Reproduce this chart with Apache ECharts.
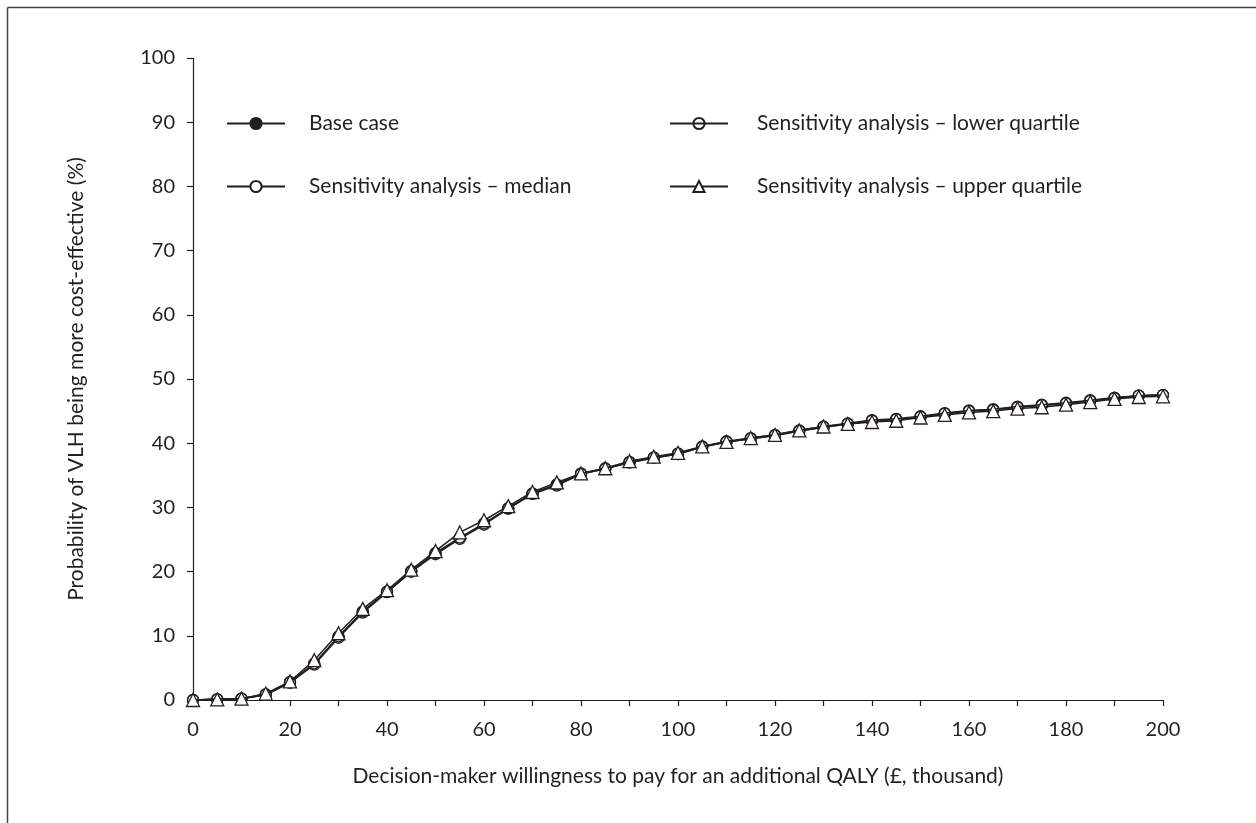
<!DOCTYPE html>
<html>
<head>
<meta charset="utf-8">
<script src="https://cdn.jsdelivr.net/npm/echarts@6/dist/echarts.min.js"></script>
<style>
  html, body { margin: 0; padding: 0; background: #fff; }
  #chart { width: 1256px; height: 823px; }
</style>
</head>
<body>
<div id="chart"></div>
<script>
// Willingness to pay (£ thousand per QALY)
const wtp = [0,5,10,15,20,25,30,35,40,45,50,55,60,65,70,75,80,85,90,95,100,
             105,110,115,120,125,130,135,140,145,150,155,160,165,170,175,180,185,190,195,200];

// Probability (%) that VLH is more cost-effective
const baseCase = [0,0.1,0.2,0.8,2.7,5.6,9.8,13.7,16.8,20.0,22.8,25.2,27.4,29.8,32.1,33.5,35.2,36.0,37.0,37.7,38.3,
                  39.4,40.2,40.7,41.2,41.9,42.5,43.0,43.5,43.7,44.1,44.6,45.0,45.2,45.6,45.9,46.2,46.6,47.0,47.4,47.5];
const median = [0,0.1,0.2,0.8,2.7,5.5,9.7,13.6,16.8,20.0,22.7,25.1,27.3,29.8,32.1,33.4,35.2,36.0,37.0,37.7,38.3,
                39.4,40.2,40.7,41.2,41.9,42.5,43.0,43.5,43.7,44.1,44.6,45.0,45.2,45.6,45.9,46.2,46.6,47.0,47.4,47.5];
const lowerQuartile = [0,0.1,0.2,0.9,2.8,5.7,9.9,13.8,16.9,20.1,22.9,25.3,27.5,29.9,32.2,33.6,35.3,36.1,37.1,37.8,38.4,
                       39.5,40.3,40.8,41.3,42.0,42.6,43.1,43.6,43.8,44.2,44.7,45.1,45.3,45.7,46.0,46.3,46.7,47.1,47.4,47.5];
const upperQuartile = [0,0.1,0.2,1.0,2.9,6.2,10.4,14.2,17.1,20.3,23.2,26.1,28.0,30.2,32.4,33.9,35.3,36.1,37.2,37.9,38.5,
                       39.5,40.2,40.8,41.3,42.0,42.6,43.0,43.3,43.5,44.0,44.4,44.8,45.0,45.4,45.6,46.0,46.4,46.9,47.2,47.3];

// Axis tick values
const xTicks = [0,20,40,60,80,100,120,140,160,180,200];
const yTicks = [0,10,20,30,40,50,60,70,80,90,100];

const seriesNames = ['Base case', 'Sensitivity analysis \u2013 median',
                     'Sensitivity analysis \u2013 lower quartile', 'Sensitivity analysis \u2013 upper quartile'];

const ink = '#231f20';
const font = 'Lato, "Open Sans", sans-serif';

function pairs(vals) { return wtp.map((x, i) => [x, vals[i]]); }

function lineSeries(name, vals, symbol, size, fill, z) {
  return {
    name: name,
    type: 'line',
    data: pairs(vals),
    symbol: symbol,
    symbolSize: size,
    showAllSymbol: true,
    z: z,
    lineStyle: { color: ink, width: 1.5 },
    itemStyle: { color: fill, borderColor: ink, borderWidth: 1.3 },
    emphasis: { disabled: true },
    animation: false
  };
}

const chart = echarts.init(document.getElementById('chart'), null, { renderer: 'canvas' });

function legendAt(left, textGap, names) {
  return {
    orient: 'vertical',
    left: left,
    top: 113,
    padding: 0,
    itemWidth: 58,
    itemHeight: 14,
    itemGap: 42,
    textStyle: { color: ink, fontSize: 21, fontFamily: font, padding: [0, 0, 0, textGap] },
    selectedMode: false,
    data: names
  };
}

chart.setOption({
  backgroundColor: '#fff',
  animation: false,
  graphic: [
    { type: 'line', shape: { x1: 7.5, y1: 7.5, x2: 1256, y2: 7.5 }, style: { stroke: '#444', lineWidth: 1.5 } },
    { type: 'line', shape: { x1: 7.5, y1: 7.5, x2: 7.5, y2: 823 }, style: { stroke: '#444', lineWidth: 1.5 } }
  ],
  grid: { left: 193, right: 93, top: 58, bottom: 123, containLabel: false },
  legend: [
    legendAt(226, 19, [seriesNames[0], seriesNames[1]]),
    legendAt(669, 24, [seriesNames[2], seriesNames[3]])
  ],
  xAxis: {
    type: 'value',
    min: 0, max: 200, interval: 10,
    name: 'Decision-maker willingness to pay for an additional QALY (\u00a3, thousand)',
    nameLocation: 'middle',
    nameGap: 66,
    nameTextStyle: { color: ink, fontSize: 21, fontFamily: font },
    axisLine: { lineStyle: { color: ink, width: 1.2 } },
    axisTick: { show: true, length: 6, lineStyle: { color: ink, width: 1.2 } },
    axisLabel: {
      color: ink, fontSize: 20, fontFamily: font, margin: 20,
      formatter: v => (xTicks.indexOf(v) >= 0 ? String(v) : '')
    },
    splitLine: { show: false }
  },
  yAxis: {
    type: 'value',
    min: 0, max: 100, interval: 10,
    name: 'Probability of VLH being more cost-effective (%)',
    nameLocation: 'middle',
    nameGap: 106,
    nameTextStyle: { color: ink, fontSize: 21, fontFamily: font },
    axisLine: { show: true, lineStyle: { color: ink, width: 1.2 } },
    axisTick: { show: true, length: 6, lineStyle: { color: ink, width: 1.2 } },
    axisLabel: {
      color: ink, fontSize: 20, fontFamily: font, margin: 18,
      formatter: v => (yTicks.indexOf(v) >= 0 ? String(v) : '')
    },
    splitLine: { show: false }
  },
  series: [
    lineSeries(seriesNames[0], baseCase, 'circle', 11, ink, 2),
    lineSeries(seriesNames[1], median, 'circle', 11, '#fff', 3),
    lineSeries(seriesNames[2], lowerQuartile, 'circle', 11, 'rgba(0,0,0,0)', 4),
    lineSeries(seriesNames[3], upperQuartile, 'triangle', 13, '#fff', 5)
  ]
});
</script>
</body>
</html>
